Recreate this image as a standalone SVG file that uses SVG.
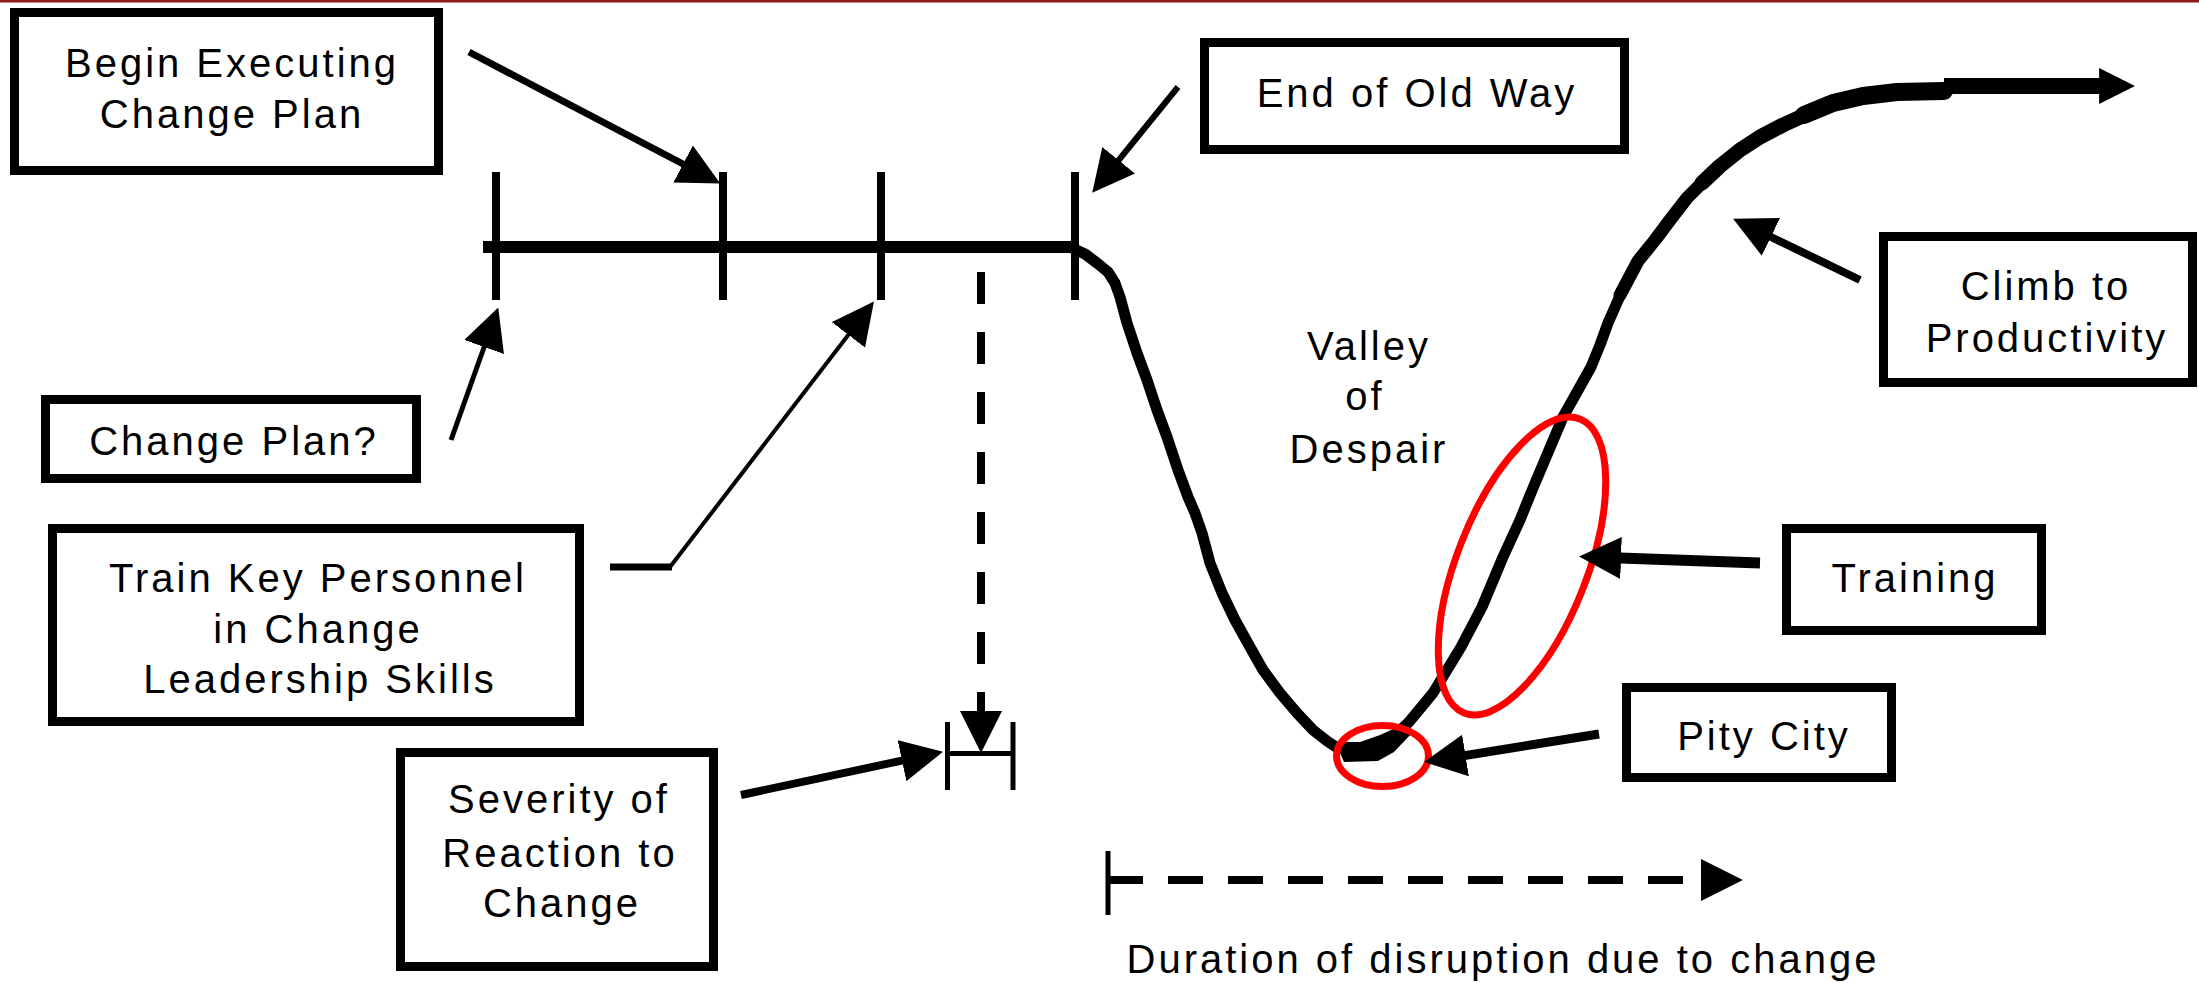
<svg xmlns="http://www.w3.org/2000/svg" width="2199" height="983" viewBox="0 0 2199 983">
<style>
  .box { fill: #ffffff; stroke: #000000; stroke-width: 9; }
  .lbl { font-family: "Liberation Sans", Arial, sans-serif; font-size: 40px; letter-spacing: 3px; fill: #000000; text-anchor: middle; }
  .ln { fill: none; stroke: #000000; stroke-linecap: butt; stroke-linejoin: round; }
  .cv { fill: none; stroke: #000000; stroke-linecap: round; stroke-linejoin: round; }
  .red { fill: none; stroke: #ff0000; stroke-width: 7; }
</style>
<defs>
  <marker id="head" markerUnits="userSpaceOnUse" markerWidth="42" markerHeight="42" viewBox="0 0 40 40" refX="1" refY="20" orient="auto">
    <polygon points="0,0 40,20 0,40" fill="#000000"/>
  </marker>
  <marker id="headsm" markerUnits="userSpaceOnUse" markerWidth="36" markerHeight="36" viewBox="0 0 40 40" refX="1" refY="20" orient="auto">
    <polygon points="0,0 40,20 0,40" fill="#000000"/>
  </marker>
</defs>
<rect x="0" y="0" width="2199" height="983" fill="#ffffff"/>
<rect x="0" y="0" width="2199" height="2.5" fill="#8b1a1a"/>

<g id="chart">
  <line class="ln" x1="483" y1="247" x2="1076" y2="247" stroke-width="12"/>
  <line class="ln" x1="496" y1="172" x2="496" y2="300" stroke-width="8"/>
  <line class="ln" x1="723" y1="172" x2="723" y2="300" stroke-width="8"/>
  <line class="ln" x1="881" y1="172" x2="881" y2="300" stroke-width="8"/>
  <line class="ln" x1="1075" y1="172" x2="1075" y2="300" stroke-width="8"/>
  <path class="ln" stroke-width="11" d="M 1072 248 L 1085 254 L 1097 263 L 1108 272 L 1115 283 L 1120 297 L 1127 323 L 1137 353 L 1147 380 L 1157 410 L 1167 437 L 1178 470 L 1188 497 L 1195 513 L 1202 533 L 1210 563 L 1222 593 L 1235 620 L 1250 647 L 1263 670 L 1280 693 L 1297 713 L 1313 730 L 1327 741 L 1342 751"/>
  <polygon points="1336,744 1344,762 1378,761 1394,752 1412,733 1400,726 1380,735 1360,742 1346,742" fill="#000000"/>
  <path class="ln" stroke-width="11" d="M 1395 735 L 1409 722 L 1433 693 L 1461 647 L 1482 607 L 1503 557 L 1520 520 L 1533 488 L 1563 417 L 1591 367 L 1600 345 L 1608 323 L 1623 289"/>
  <path class="cv" stroke-width="13" d="M 1620 295 L 1638 261 L 1655 240 L 1670 220 L 1687 198 L 1705 180"/>
  <path class="cv" stroke-width="15" d="M 1702 183 L 1720 166 L 1740 150 L 1760 137 L 1783 125 L 1807 114"/>
  <path class="cv" stroke-width="18" d="M 1804 115 L 1833 103 L 1863 96 L 1897 92 L 1944 91"/>
  <line class="ln" x1="1944" y1="86" x2="2100" y2="86" stroke-width="16" marker-end="url(#headsm)"/>
  <ellipse class="red" cx="1522" cy="566" rx="65" ry="158" transform="rotate(21.5 1522 566)"/>
  <ellipse class="red" cx="1382.5" cy="756" rx="46" ry="30.5"/>
  <line class="ln" x1="947.5" y1="722" x2="947.5" y2="790" stroke-width="5"/>
  <line class="ln" x1="1013" y1="722" x2="1013" y2="790" stroke-width="5"/>
  <line class="ln" x1="947" y1="753.5" x2="1013" y2="753.5" stroke-width="5"/>
  <line class="ln" x1="1108" y1="851" x2="1108" y2="915" stroke-width="5"/>
</g>

<g id="connectors">
  <line class="ln" x1="469" y1="52" x2="684" y2="164.5" stroke-width="7" marker-end="url(#head)"/>
  <line class="ln" x1="451" y1="440" x2="484.5" y2="346" stroke-width="5" marker-end="url(#head)"/>
  <line class="ln" x1="610" y1="567" x2="672" y2="567" stroke-width="7"/>
  <line class="ln" x1="670" y1="567" x2="849" y2="334" stroke-width="4" marker-end="url(#head)"/>
  <line class="ln" x1="1178" y1="87" x2="1118" y2="161" stroke-width="6" marker-end="url(#head)"/>
  <line class="ln" x1="1860" y1="280" x2="1770" y2="236.5" stroke-width="8" marker-end="url(#head)"/>
  <line class="ln" x1="1760" y1="563" x2="1620" y2="558" stroke-width="11" marker-end="url(#head)"/>
  <line class="ln" x1="1599" y1="734" x2="1464.5" y2="755.6" stroke-width="9" marker-end="url(#head)"/>
  <line class="ln" x1="741" y1="795" x2="903" y2="760.4" stroke-width="8" marker-end="url(#head)"/>
  <line class="ln" x1="981" y1="272" x2="981" y2="712" stroke-width="8" stroke-dasharray="32 28" marker-end="url(#head)"/>
  <line class="ln" x1="1108" y1="880" x2="1702" y2="880" stroke-width="8" stroke-dasharray="35 25" marker-end="url(#head)"/>
</g>

<g id="n-begin">
  <rect class="box" x="14.5" y="12.5" width="424" height="158"/>
  <text class="lbl" x="232" y="77">Begin Executing</text>
  <text class="lbl" x="232" y="128">Change Plan</text>
</g>
<g id="n-changeplan">
  <rect class="box" x="45.5" y="399.5" width="371" height="79"/>
  <text class="lbl" x="234" y="455">Change Plan?</text>
</g>
<g id="n-train">
  <rect class="box" x="52.5" y="528.5" width="527" height="193"/>
  <text class="lbl" x="318" y="592">Train Key Personnel</text>
  <text class="lbl" x="318" y="643">in Change</text>
  <text class="lbl" x="320" y="693">Leadership Skills</text>
</g>
<g id="n-severity">
  <rect class="box" x="400.5" y="752.5" width="313" height="214"/>
  <text class="lbl" x="559" y="813">Severity of</text>
  <text class="lbl" x="560" y="867">Reaction to</text>
  <text class="lbl" x="562" y="917">Change</text>
</g>
<g id="n-endold">
  <rect class="box" x="1204.5" y="42.5" width="420" height="107"/>
  <text class="lbl" x="1417" y="107">End of Old Way</text>
</g>
<g id="n-valley">
  <text class="lbl" x="1369" y="360">Valley</text>
  <text class="lbl" x="1365" y="410">of</text>
  <text class="lbl" x="1369" y="463">Despair</text>
</g>
<g id="n-climb">
  <rect class="box" x="1883.5" y="236.5" width="309" height="146"/>
  <text class="lbl" x="2046" y="300">Climb to</text>
  <text class="lbl" x="2047" y="352">Productivity</text>
</g>
<g id="n-training">
  <rect class="box" x="1786.5" y="528.5" width="255" height="102"/>
  <text class="lbl" x="1915" y="592">Training</text>
</g>
<g id="n-pity">
  <rect class="box" x="1626.5" y="687.5" width="265" height="90"/>
  <text class="lbl" x="1764" y="750">Pity City</text>
</g>
<g id="n-duration">
  <text class="lbl" x="1503" y="973">Duration of disruption due to change</text>
</g>
</svg>
